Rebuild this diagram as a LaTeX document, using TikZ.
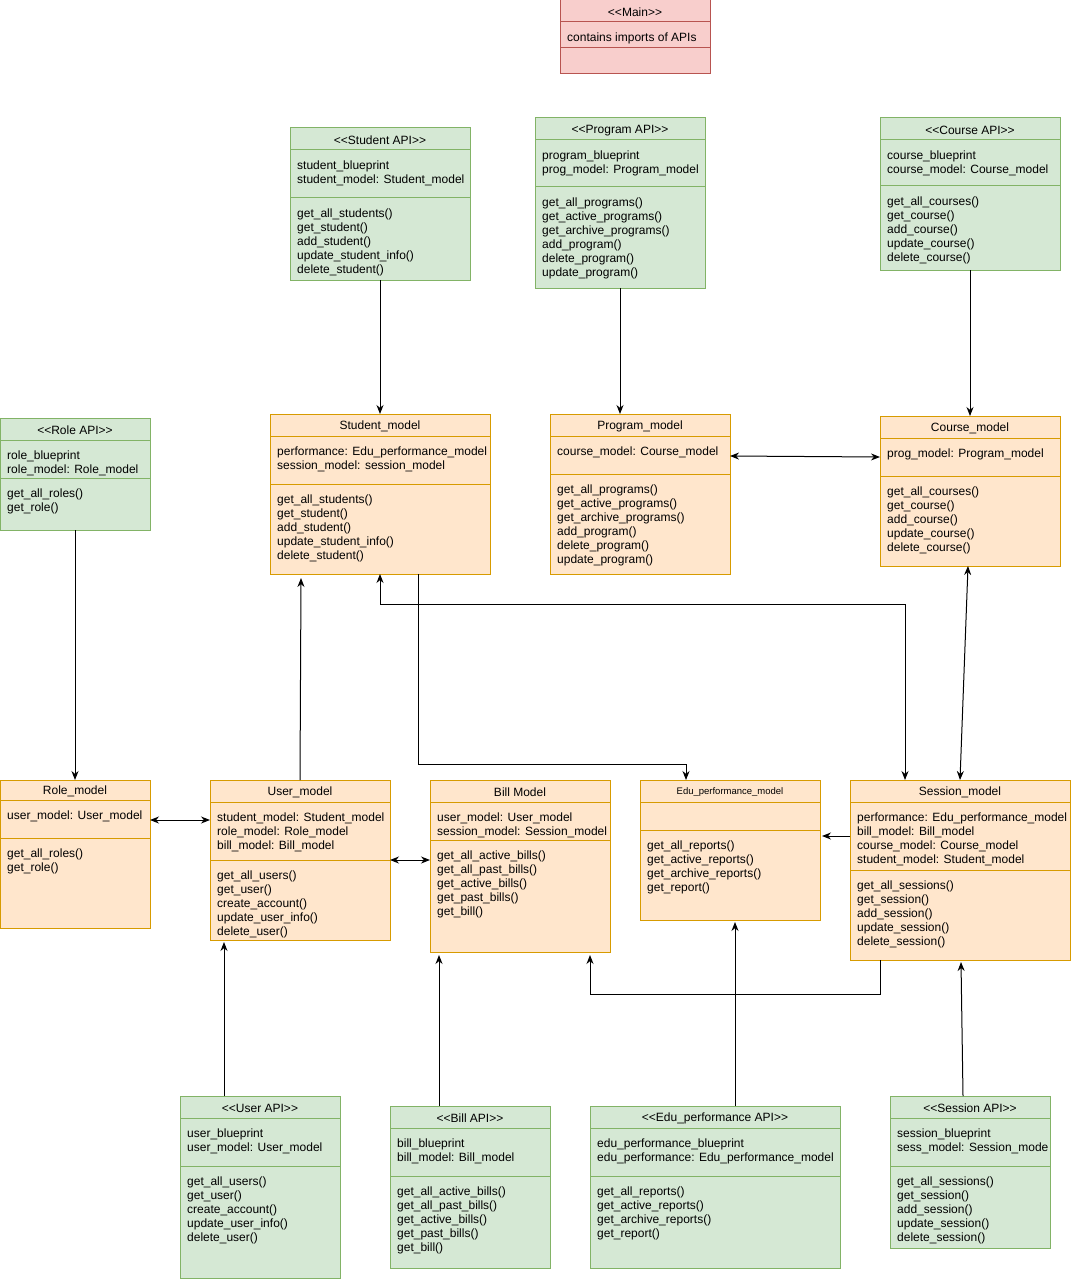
\documentclass[tikz,border=0pt]{standalone}
\usepackage{fontspec}
\setmainfont{Liberation Sans}
\usetikzlibrary{arrows.meta,positioning}

\definecolor{apifill}{HTML}{D5E8D4}
\definecolor{apiline}{HTML}{82B366}
\definecolor{modelfill}{HTML}{FFE6CC}
\definecolor{modelline}{HTML}{D79B00}
\definecolor{mainfill}{HTML}{F8CECC}
\definecolor{mainline}{HTML}{B85450}

\tikzset{
  apicls/.style={draw=apiline, fill=apifill},
  modelcls/.style={draw=modelline, fill=modelfill},
  maincls/.style={draw=mainline, fill=mainfill},
  classtitle/.style={font=\fontsize{12}{14}\selectfont, inner sep=0pt},
  members/.style={font=\fontsize{12}{14}\selectfont, align=left, anchor=north west, inner sep=0pt},
  dep/.style={line width=1pt, -{Stealth[length=9pt,width=7pt]}},
  depboth/.style={line width=1pt, {Stealth[length=9pt,width=7pt]}-{Stealth[length=9pt,width=7pt]}}
}

% class box: name, colours, left, top, width, height, title row, attribute row
\newcommand{\umlclass}[8]{%
  \node[#2, line width=1pt, inner sep=0pt, outer sep=0pt, minimum width=#5pt, minimum height=#6pt, anchor=north west] (#1) at (#3,#4) {};
  \draw[#2, fill=none, line width=1pt] (#3,{#4+#7}) -- ({#3+#5},{#4+#7});
  \draw[#2, fill=none, line width=1pt] (#3,{#4+#7+#8}) -- ({#3+#5},{#4+#7+#8});
  \coordinate (#1-t) at ({#3+#5/2},{#4+#7/2+1.5});
  \coordinate (#1-a) at ({#3+7},{#4+#7+11});
  \coordinate (#1-m) at ({#3+7},{#4+#7+#8+11});
}
\newcommand{\stereo}[1]{<\kern0pt<#1>\kern0pt>}

\begin{document}
\begin{tikzpicture}[x=1pt, y=-1pt]
  \useasboundingbox (0,0) rectangle (1071,1281);

  % main
  \umlclass{mainbox}{maincls}{560}{0}{150}{74}{22}{26}
  \node[classtitle] at (mainbox-t) {\stereo{Main}};
  \node[members] at (mainbox-a) {contains imports of APIs};

  % APIs on top
  \umlclass{stuapi}{apicls}{290}{128}{180}{152}{22}{48}
  \node[classtitle] at (stuapi-t) {\stereo{Student API}};
  \node[members] at (stuapi-a) {student\_blueprint\\student\_model: Student\_model};
  \node[members] at (stuapi-m) {get\_all\_students()\\get\_student()\\add\_student()\\update\_student\_info()\\delete\_student()};

  \umlclass{prgapi}{apicls}{535}{118}{170}{170}{22}{47}
  \node[classtitle] at (prgapi-t) {\stereo{Program API}};
  \node[members] at (prgapi-a) {program\_blueprint\\prog\_model: Program\_model};
  \node[members] at (prgapi-m) {get\_all\_programs()\\get\_active\_programs()\\get\_archive\_programs()\\add\_program()\\delete\_program()\\update\_program()};

  \umlclass{crsapi}{apicls}{880}{118}{180}{152}{22}{46}
  \node[classtitle] at (crsapi-t) {\stereo{Course API}};
  \node[members] at (crsapi-a) {course\_blueprint\\course\_model: Course\_model};
  \node[members] at (crsapi-m) {get\_all\_courses()\\get\_course()\\add\_course()\\update\_course()\\delete\_course()};

  \umlclass{roleapi}{apicls}{0}{418}{150}{112}{22}{38}
  \node[classtitle] at (roleapi-t) {\stereo{Role API}};
  \node[members] at (roleapi-a) {role\_blueprint\\role\_model: Role\_model};
  \node[members] at (roleapi-m) {get\_all\_roles()\\get\_role()};

  % models
  \umlclass{stumodel}{modelcls}{270}{414}{220}{160}{22}{48}
  \node[classtitle] at (stumodel-t) {Student\_model};
  \node[members] at (stumodel-a) {performance: Edu\_performance\_model\\session\_model: session\_model};
  \node[members] at (stumodel-m) {get\_all\_students()\\get\_student()\\add\_student()\\update\_student\_info()\\delete\_student()};

  \umlclass{prgmodel}{modelcls}{550}{414}{180}{160}{22}{38}
  \node[classtitle] at (prgmodel-t) {Program\_model};
  \node[members] at (prgmodel-a) {course\_model: Course\_model};
  \node[members] at (prgmodel-m) {get\_all\_programs()\\get\_active\_programs()\\get\_archive\_programs()\\add\_program()\\delete\_program()\\update\_program()};

  \umlclass{crsmodel}{modelcls}{880}{416}{180}{150}{22}{38}
  \node[classtitle] at (crsmodel-t) {Course\_model};
  \node[members] at (crsmodel-a) {prog\_model: Program\_model};
  \node[members] at (crsmodel-m) {get\_all\_courses()\\get\_course()\\add\_course()\\update\_course()\\delete\_course()};

  \umlclass{rolemodel}{modelcls}{0}{780}{150}{148}{20}{38}
  \node[classtitle] at (rolemodel-t) {Role\_model};
  \node[members] at (rolemodel-a) {user\_model: User\_model};
  \node[members] at (rolemodel-m) {get\_all\_roles()\\get\_role()};

  \umlclass{usermodel}{modelcls}{210}{780}{180}{160}{22}{58}
  \node[classtitle] at (usermodel-t) {User\_model};
  \node[members] at (usermodel-a) {student\_model: Student\_model\\role\_model: Role\_model\\bill\_model: Bill\_model};
  \node[members] at (usermodel-m) {get\_all\_users()\\get\_user()\\create\_account()\\update\_user\_info()\\delete\_user()};

  \umlclass{billmodel}{modelcls}{430}{780}{180}{172}{22}{38}
  \node[classtitle] at (billmodel-t) {Bill Model};
  \node[members] at (billmodel-a) {user\_model: User\_model\\session\_model: Session\_model};
  \node[members] at (billmodel-m) {get\_all\_active\_bills()\\get\_all\_past\_bills()\\get\_active\_bills()\\get\_past\_bills()\\get\_bill()};

  \umlclass{edumodel}{modelcls}{640}{780}{180}{140}{22}{28}
  \node[classtitle, font=\fontsize{9.5}{11}\selectfont] at (edumodel-t) {Edu\_performance\_model};
  \node[members] at (edumodel-m) {get\_all\_reports()\\get\_active\_reports()\\get\_archive\_reports()\\get\_report()};

  \umlclass{sesmodel}{modelcls}{850}{780}{220}{180}{22}{68}
  \node[classtitle] at (sesmodel-t) {Session\_model};
  \node[members] at (sesmodel-a) {performance: Edu\_performance\_model\\bill\_model: Bill\_model\\course\_model: Course\_model\\student\_model: Student\_model};
  \node[members] at (sesmodel-m) {get\_all\_sessions()\\get\_session()\\add\_session()\\update\_session()\\delete\_session()};

  % APIs at the bottom
  \umlclass{userapi}{apicls}{180}{1096}{160}{182}{22}{48}
  \node[classtitle] at (userapi-t) {\stereo{User API}};
  \node[members] at (userapi-a) {user\_blueprint\\user\_model: User\_model};
  \node[members] at (userapi-m) {get\_all\_users()\\get\_user()\\create\_account()\\update\_user\_info()\\delete\_user()};

  \umlclass{billapi}{apicls}{390}{1106}{160}{162}{22}{48}
  \node[classtitle] at (billapi-t) {\stereo{Bill API}};
  \node[members] at (billapi-a) {bill\_blueprint\\bill\_model: Bill\_model};
  \node[members] at (billapi-m) {get\_all\_active\_bills()\\get\_all\_past\_bills()\\get\_active\_bills()\\get\_past\_bills()\\get\_bill()};

  \umlclass{eduapi}{apicls}{590}{1106}{250}{162}{22}{48}
  \node[classtitle] at (eduapi-t) {\stereo{Edu\_performance API}};
  \node[members] at (eduapi-a) {edu\_performance\_blueprint\\edu\_performance: Edu\_performance\_model};
  \node[members] at (eduapi-m) {get\_all\_reports()\\get\_active\_reports()\\get\_archive\_reports()\\get\_report()};

  \umlclass{sesapi}{apicls}{890}{1096}{160}{152}{22}{48}
  \node[classtitle] at (sesapi-t) {\stereo{Session API}};
  \node[members] at (sesapi-a) {session\_blueprint\\sess\_model: Session\_mode};
  \node[members] at (sesapi-m) {get\_all\_sessions()\\get\_session()\\add\_session()\\update\_session()\\delete\_session()};

  % connectors
  \draw[dep] (stuapi.south) -- (stumodel.north);
  \draw[dep] (prgapi.south) -- (prgapi.south |- prgmodel.north);
  \draw[dep] (crsapi.south) -- (crsmodel.north);
  \draw[dep] (roleapi.south) -- (rolemodel.north);
  \draw[depboth] ([yshift=-42pt]prgmodel.north east) -- ([yshift=-41pt]crsmodel.north west);
  \draw[depboth] ([xshift=-2pt]crsmodel.south) -- (sesmodel.north);
  \draw[depboth] (stumodel.south) -- ++(0,30) -| ([xshift=-55pt]sesmodel.north);
  \draw[dep] ([xshift=38pt]stumodel.south) -- ++(0,190) -| ([xshift=-44pt]edumodel.north);
  \draw[dep] (usermodel.north) -- ([xshift=-79pt,yshift=-4pt]stumodel.south);
  \draw[depboth] ([yshift=-40pt]rolemodel.north east) -- ([yshift=-40pt]usermodel.north west);
  \draw[depboth] ([yshift=-80pt]usermodel.north east) -- ([yshift=-80pt]billmodel.north west);
  \draw[dep] ([yshift=-56pt]sesmodel.north west) -- ([yshift=-56pt,xshift=2pt]edumodel.north east);
  \draw[dep] ([xshift=-80pt]sesmodel.south) -- ++(0,34) -| ([xshift=70pt,yshift=-3pt]billmodel.south);
  \draw[dep] ([xshift=-36pt]userapi.north) -- ([xshift=-76pt,yshift=-2pt]usermodel.south);
  \draw[dep] ([xshift=-31pt]billapi.north) -- ([xshift=-81pt,yshift=-3pt]billmodel.south);
  \draw[dep] ([xshift=20pt]eduapi.north) -- ([xshift=5pt,yshift=-2pt]edumodel.south);
  \draw[dep] ([xshift=-7pt]sesapi.north) -- ([xshift=1pt,yshift=-2pt]sesmodel.south);
\end{tikzpicture}
\end{document}
